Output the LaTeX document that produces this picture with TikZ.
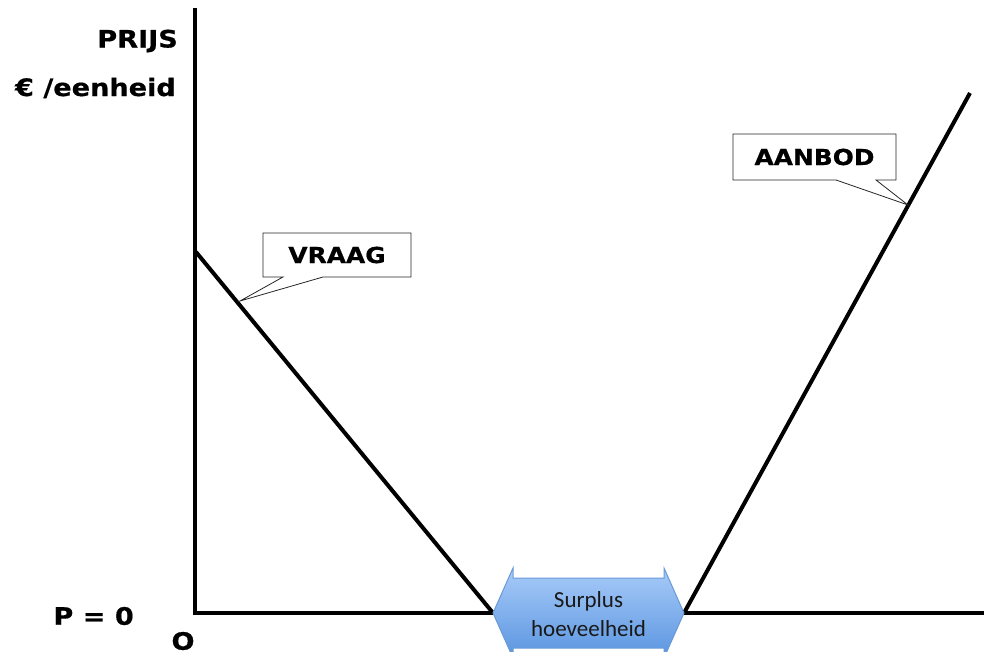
\documentclass[tikz,border=0pt]{standalone}
\usepackage{fontspec}
\setmainfont{DejaVu Sans}
\newfontfamily\vfont[FakeStretch=1.13,FakeBold=0.6]{DejaVu Sans Bold}
\newfontfamily\calfont{Carlito}
\usetikzlibrary{shapes.callouts}
\definecolor{arrtop}{HTML}{A8CBF9}
\definecolor{arrbot}{HTML}{5A95E0}
\definecolor{arredge}{HTML}{6A9BD8}
\tikzset{
  axis/.style={line width=3.5pt, line cap=rect},
  curve/.style={line width=4pt},
  lbl/.style={font=\vfont\fontsize{24}{27}\selectfont, inner sep=0pt},
  callbox/.style={rectangle callout, draw=black!85, line width=0.8pt, fill=white,
    font=\vfont\fontsize{22}{25}\selectfont, inner sep=0pt, callout pointer width=40pt},
  surptext/.style={font=\calfont\fontsize{23}{29}\selectfont, text=black!90, align=center, inner sep=0pt}
}
\begin{document}
\begin{tikzpicture}[x=1pt,y=-1pt]
\useasboundingbox (0,0) rectangle (984,652);
\clip (0,0) rectangle (984,652);
% axes
\coordinate (ytop) at (195,10);
\coordinate (orig) at (195,613);
\coordinate (xend) at (984,613);
\draw[axis] (ytop) -- (orig) -- (xend);
% curves
\coordinate (v1) at (196,252);
\coordinate (v2) at (493,613);
\coordinate (a1) at (684,613);
\coordinate (a2) at (970,93);
\draw[curve] (v1) -- (v2);
\draw[curve] (a1) -- (a2);
% labels
\node[lbl, anchor=east] (prijs) at (178,41) {PRIJS};
\node[lbl, anchor=east] (eenh) at (176,88) {€ /eenheid};
\node[lbl, anchor=east] (p0) at (134,616) {P = 0};
\node[lbl] (o) at (183,641) {O};
% callouts
\coordinate (vtip) at (240,301);
\coordinate (atip) at (908,205);
\node[callbox, minimum width=148pt, minimum height=44pt, callout absolute pointer=(vtip)] (vraag) at (337,255) {VRAAG};
\node[callbox, minimum width=163pt, minimum height=46pt, callout absolute pointer=(atip)] (aanbod) at (814.5,157) {AANBOD};
% surplus double arrow
\shade[top color=arrtop, bottom color=arrbot, draw=arredge, line width=1pt]
  (493,613) -- (513,568) -- (513,578) -- (664,578) -- (664,568) -- (684,613)
  -- (664,658) -- (664,648) -- (513,648) -- (513,658) -- cycle;
\node[surptext] (surp) at (588.5,614) {Surplus\\hoeveelheid};
\end{tikzpicture}
\end{document}
